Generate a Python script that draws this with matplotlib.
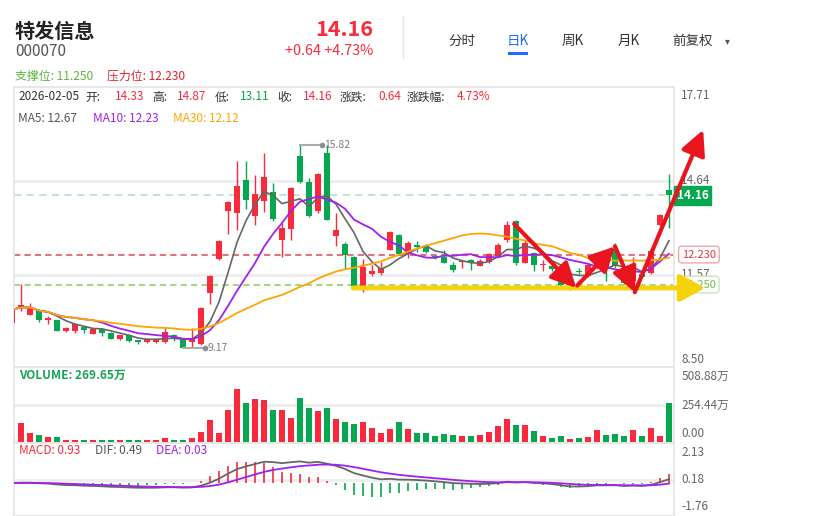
import numpy as np
import pandas as pd
import matplotlib
matplotlib.use("Agg")
import matplotlib.pyplot as plt
import matplotlib.transforms as mtransforms
from matplotlib.lines import Line2D

plt.rcParams['font.family'] = ['Noto Sans CJK SC', 'DejaVu Sans']

# daily candles of 特发信息 (000070)
opens = [10.01, 10.49, 10.27, 10.38, 10.11, 10.09, 9.73, 9.73, 9.87, 9.65,
         9.81, 9.68, 9.49, 9.62, 9.43, 9.37, 9.37, 9.37, 9.61, 9.43,
         9.38, 9.30, 10.98, 12.09, 13.66, 13.59, 14.67, 13.50, 13.99, 14.26,
         12.69, 13.07, 15.45, 14.61, 13.64, 15.56, 12.85, 12.58, 12.15, 11.06,
         11.61, 11.63, 12.39, 12.88, 12.25, 12.53, 12.50, 12.19, 12.14, 11.88,
         11.99, 12.06, 11.87, 11.98, 12.19, 12.72, 13.32, 11.96, 12.28, 11.88,
         11.85, 11.74, 11.08, 11.71, 11.52, 11.79, 12.01, 12.40, 11.58, 11.36,
         11.58, 11.63, 13.18, 14.33]
highs = [10.45, 11.28, 10.65, 10.40, 10.24, 10.11, 9.85, 9.98, 9.90, 9.84,
         9.83, 9.70, 9.62, 9.64, 9.44, 9.50, 9.52, 9.87, 9.64, 9.45,
         9.84, 10.52, 11.56, 12.70, 13.99, 15.30, 15.30, 14.83, 15.56, 14.56,
         13.26, 14.42, 15.82, 14.73, 14.90, 15.80, 13.59, 12.63, 12.17, 12.08,
         11.90, 11.98, 12.99, 12.90, 12.66, 12.66, 12.57, 12.21, 12.37, 11.99,
         12.06, 12.08, 12.08, 12.28, 12.62, 13.31, 13.35, 12.70, 12.30, 12.06,
         11.90, 11.76, 11.18, 11.80, 11.95, 12.32, 12.05, 12.61, 11.60, 12.15,
         11.70, 12.40, 13.56, 14.87]
lows = [9.98, 10.38, 10.25, 10.02, 9.97, 9.72, 9.70, 9.68, 9.68, 9.63,
        9.57, 9.46, 9.44, 9.38, 9.30, 9.34, 9.35, 9.35, 9.40, 9.17,
        9.20, 9.28, 10.62, 12.04, 12.91, 13.02, 13.73, 13.20, 13.61, 13.31,
        12.15, 12.72, 14.55, 13.46, 13.58, 13.35, 12.50, 11.76, 11.20, 11.01,
        11.54, 11.56, 12.37, 12.22, 12.12, 12.30, 12.28, 12.10, 11.94, 11.66,
        11.79, 11.74, 11.85, 11.96, 12.17, 12.65, 11.90, 11.94, 11.68, 11.71,
        11.70, 11.22, 11.06, 11.58, 11.50, 11.75, 11.36, 11.80, 11.28, 11.05,
        11.45, 11.60, 13.15, 13.11]
closes = [10.43, 10.58, 10.49, 10.11, 10.17, 9.75, 9.82, 9.95, 9.76, 9.81,
          9.68, 9.49, 9.59, 9.40, 9.37, 9.48, 9.48, 9.70, 9.46, 9.19,
          9.51, 10.49, 11.54, 12.68, 13.96, 14.47, 14.02, 14.20, 14.76, 13.39,
          13.10, 14.40, 14.60, 13.50, 14.87, 13.37, 13.04, 12.23, 11.22, 11.81,
          11.68, 11.79, 12.97, 12.25, 12.61, 12.47, 12.30, 12.12, 11.96, 11.74,
          12.03, 11.98, 12.01, 12.25, 12.55, 13.19, 11.96, 12.61, 11.88, 11.92,
          11.77, 11.25, 11.15, 11.66, 11.90, 12.28, 11.79, 11.85, 11.31, 11.90,
          11.49, 12.34, 13.52, 14.16]
# volume in 万
volumes = [45.8, 137.5, 68.8, 52.7, 39.0, 39.0, 18.3, 18.3, 18.3, 18.3,
           18.3, 18.3, 18.3, 18.3, 18.3, 18.3, 18.3, 32.1, 18.3, 18.3,
           32.1, 75.6, 155.9, 68.8, 224.7, 362.2, 272.8, 293.4, 286.6, 224.7,
           224.7, 169.6, 300.3, 238.4, 217.8, 238.4, 162.8, 142.1, 128.4, 142.1,
           100.8, 66.5, 94.0, 142.1, 94.0, 66.5, 66.5, 45.8, 59.6, 52.7,
           45.8, 45.8, 52.7, 73.4, 114.6, 162.8, 121.5, 121.5, 80.2, 45.8,
           32.1, 45.8, 25.2, 32.1, 39.0, 87.1, 52.7, 59.6, 45.8, 87.1,
           45.8, 100.8, 45.8, 269.65]

support = 11.250
resistance = 12.230
last_price = 14.16

price_ticks = [17.71, 14.64, 11.57, 8.50]
vol_ticks = [508.88, 254.44, 0.00]
macd_ticks = [2.13, 0.18, -1.76]

# hand drawn arrows on top of the chart: (candle index, price)
red_arrows = [((55.8, 13.23), (62.7, 11.14)),
              ((62.8, 11.22), (67.0, 12.50)),
              ((67.0, 12.50), (69.2, 11.00)),
              ((69.2, 11.00), (76.8, 16.30))]
yellow_arrow = ((37.9, 11.14), (77.0, 11.14))

RED = '#fa2a3c'
GREEN = '#05a84e'
GRAY_LINE = '#666666'
PURPLE = '#a020f0'
ORANGE = '#ffa500'
TXT = '#333333'
AX_TXT = '#666666'
BLUE = '#1f6bff'

W, H = 823, 516
fig = plt.figure(figsize=(W / 100, H / 100), dpi=100)


def fx(px):
    return px / W


def fy(py):
    return 1 - py / H


x0, x1 = 14, 674
ax_k = fig.add_axes([fx(x0), fy(367), (x1 - x0) / W, (367 - 87) / H])
ax_v = fig.add_axes([fx(x0), fy(443), (x1 - x0) / W, (443 - 367) / H])
ax_m = fig.add_axes([fx(x0), fy(516), (x1 - x0) / W, (516 - 443) / H])

n = len(closes)
xs = np.arange(n)
o = np.array(opens)
h = np.array(highs)
l = np.array(lows)
c = np.array(closes)
v = np.array(volumes)
colors = np.where(c >= o, RED, GREEN)

for ax in (ax_k, ax_v, ax_m):
    ax.set_xlim(0.22, 73.56)
    ax.set_xticks([])
    ax.set_yticks([])
    for s in ax.spines.values():
        s.set_color('#e6e6e6')
        s.set_linewidth(1.3)

down = mtransforms.ScaledTranslation(0, -2 / 72, fig.dpi_scale_trans)
up = mtransforms.ScaledTranslation(0, 2 / 72, fig.dpi_scale_trans)


def axis_labels(ax, ticks, fmt):
    tr = ax.get_yaxis_transform()
    for t in ticks:
        s = fmt(t)
        if t == ticks[0]:
            ax.text(1.011, t, s, transform=tr + down, va='top', fontsize=8.5, color=AX_TXT)
        elif t == ticks[-1]:
            ax.text(1.011, t, s, transform=tr + up, va='bottom', fontsize=8.5, color=AX_TXT)
        else:
            ax.text(1.011, t, s, transform=tr, va='center', fontsize=8.5, color=AX_TXT)


# ---- price panel
ax_k.set_ylim(8.56, 17.70)
for t in price_ticks[1:3]:
    ax_k.axhline(t, color='#eeeeee', lw=2, zorder=0)

ax_k.axhline(last_price, color='#b8e6cb', lw=1.3, ls=(0, (4, 3)), zorder=1)
ax_k.axhline(resistance, color='#e27480', lw=1.5, ls=(0, (3, 2)), zorder=1)
ax_k.axhline(support, color='#a9d680', lw=1.5, ls=(0, (3, 2)), zorder=1)

ax_k.vlines(xs, l, h, colors=colors, lw=1, zorder=2)
ax_k.bar(xs, np.maximum(np.abs(c - o), 0.03), bottom=np.minimum(o, c),
         width=0.66, color=colors, zorder=3)

close_s = pd.Series(c)
ma5 = close_s.rolling(5, min_periods=1).mean()
ma10 = close_s.rolling(10, min_periods=1).mean()
ma30 = close_s.rolling(30, min_periods=1).mean()
ax_k.plot(xs, ma5, color=GRAY_LINE, lw=1.2, zorder=4)
ax_k.plot(xs, ma10, color=PURPLE, lw=1.3, zorder=4)
ax_k.plot(xs, ma30, color=ORANGE, lw=1.3, zorder=4)

# max / min markers
imax = int(np.argmax(h))
imin = int(np.argmin(l))
for idx, val in ((imax, h[imax]), (imin, l[imin])):
    ax_k.plot([idx, idx + 2.4], [val, val], color='#a9adb3', lw=1.5, zorder=5)
    ax_k.plot(idx + 2.4, val, 'o', ms=3, color='#8a8f96', zorder=5)
    ax_k.text(idx + 2.7, val, f'{val:.2f}', va='center', ha='left',
              fontsize=7.5, color='#7a7f86', zorder=5)

axis_labels(ax_k, price_ticks, lambda t: f'{t:.2f}')

ytr = ax_k.get_yaxis_transform()
ax_k.text(1.004, last_price, f'{last_price:.2f}', transform=ytr, va='center',
          ha='left', fontsize=8.5, fontweight='bold', color='white', zorder=6,
          bbox=dict(boxstyle='square,pad=0.25', fc=GREEN, ec=GREEN))
ax_k.text(1.012, resistance, f'{resistance:.3f}', transform=ytr, va='center',
          ha='left', fontsize=8, color='#d83a45', zorder=6,
          bbox=dict(boxstyle='round,pad=0.3', fc='white', ec='#f2a7ae'))
ax_k.text(1.012, support, f'{support:.3f}', transform=ytr, va='center',
          ha='left', fontsize=8, color='#6cbb3c', zorder=6,
          bbox=dict(boxstyle='round,pad=0.3', fc='white', ec='#c9e8b4'))

# drawn arrows
ax_k.annotate('', xy=yellow_arrow[1], xytext=yellow_arrow[0],
              annotation_clip=False, zorder=9,
              arrowprops=dict(arrowstyle='-|>,head_length=1.0,head_width=0.55',
                              color='#f5d20a', lw=3.5, shrinkA=0, shrinkB=0,
                              mutation_scale=15, clip_on=False))
for start, end in red_arrows:
    ax_k.annotate('', xy=end, xytext=start, annotation_clip=False, zorder=10,
                  arrowprops=dict(arrowstyle='-|>,head_length=1.0,head_width=0.5',
                                  color='#e8151f', lw=3, shrinkA=0, shrinkB=0,
                                  mutation_scale=15, clip_on=False))

# ---- volume panel
ax_v.set_ylim(0, 512)
ax_v.axhline(vol_ticks[1], color='#eeeeee', lw=2, zorder=0)
ax_v.bar(xs, v, width=0.72, color=colors, zorder=2)
axis_labels(ax_v, vol_ticks, lambda t: f'{t:.2f}万' if t > 0 else f'{t:.2f}')
ax_v.text(0.008, 0.89, 'VOLUME: 269.65万', transform=ax_v.transAxes,
          va='center', fontsize=8.5, fontweight='bold', color='#17a356')

# ---- MACD panel
ema12 = close_s.ewm(span=12, adjust=False).mean()
ema26 = close_s.ewm(span=26, adjust=False).mean()
dif = ema12 - ema26
dea = dif.ewm(span=9, adjust=False).mean()
hist = 2 * (dif - dea)

ax_m.set_ylim(macd_ticks[-1], macd_ticks[0])
ax_m.axhline(macd_ticks[1], color='#eeeeee', lw=2, zorder=0)
ax_m.vlines(xs, 0, hist, colors=np.where(hist >= 0, RED, GREEN), lw=1.2, zorder=2)
ax_m.plot(xs, dif, color=GRAY_LINE, lw=1.3, zorder=3)
ax_m.plot(xs, dea, color=PURPLE, lw=1.3, zorder=3)
axis_labels(ax_m, macd_ticks, lambda t: f'{t:.2f}')

for txt, px, col in (('MACD: 0.93', 19, RED), ('DIF: 0.49', 95, '#555555'),
                     ('DEA: 0.03', 156, PURPLE)):
    fig.text(fx(px), fy(451), txt, va='center', fontsize=8.5, color=col)

# ---- header
fig.text(fx(15), fy(31), '特发信息', fontsize=14.5, fontweight='bold', color='#222222', va='center')
fig.text(fx(15), fy(51), '000070', fontsize=11, color='#555555', va='center')
fig.text(fx(373), fy(30), '14.16', fontsize=15.5, fontweight='bold', color=RED, ha='right', va='center')
fig.text(fx(373), fy(51), '+0.64 +4.73%', fontsize=10.4, color=RED, ha='right', va='center')
fig.add_artist(Line2D([fx(403), fx(403)], [fy(16), fy(58)], color='#e6e6e6', lw=1))

for label, cx, col in (('分时', 462, TXT), ('日K', 518, BLUE), ('周K', 573, TXT),
                       ('月K', 629, TXT), ('前复权', 693, TXT)):
    fig.text(fx(cx), fy(41), label, ha='center', va='center', fontsize=9.7, color=col)
fig.text(fx(727), fy(41), '▾', ha='center', va='center', fontsize=7, color='#555555')
fig.add_artist(Line2D([fx(509), fx(526)], [fy(53), fy(53)], color=BLUE, lw=2.2))

fig.text(fx(15), fy(76), f'支撑位: {support:.3f}', fontsize=8.6, color='#5cb53a', va='center')
fig.text(fx(107), fy(76), f'压力位: {resistance:.3f}', fontsize=8.6, color='#e0262f', va='center')

info = [('2026-02-05', 18, TXT), ('开:', 85, TXT), ('14.33', 115, RED),
        ('高:', 152, TXT), ('14.87', 177, RED), ('低:', 215, TXT),
        ('13.11', 240, GREEN), ('收:', 277, TXT), ('14.16', 303, RED),
        ('涨跌:', 340, TXT), ('0.64', 378, RED), ('涨跌幅:', 407, TXT),
        ('4.73%', 457, RED)]
for txt, px, col in info:
    fig.text(fx(px), fy(97), txt, va='center', fontsize=8.5, color=col)

ma_info = [('MA5: 12.67', 18, '#555555'), ('MA10: 12.23', 93, PURPLE),
           ('MA30: 12.12', 173, ORANGE)]
for txt, px, col in ma_info:
    fig.text(fx(px), fy(118), txt, va='center', fontsize=8.5, color=col)

fig.savefig('out.png', dpi=100)
